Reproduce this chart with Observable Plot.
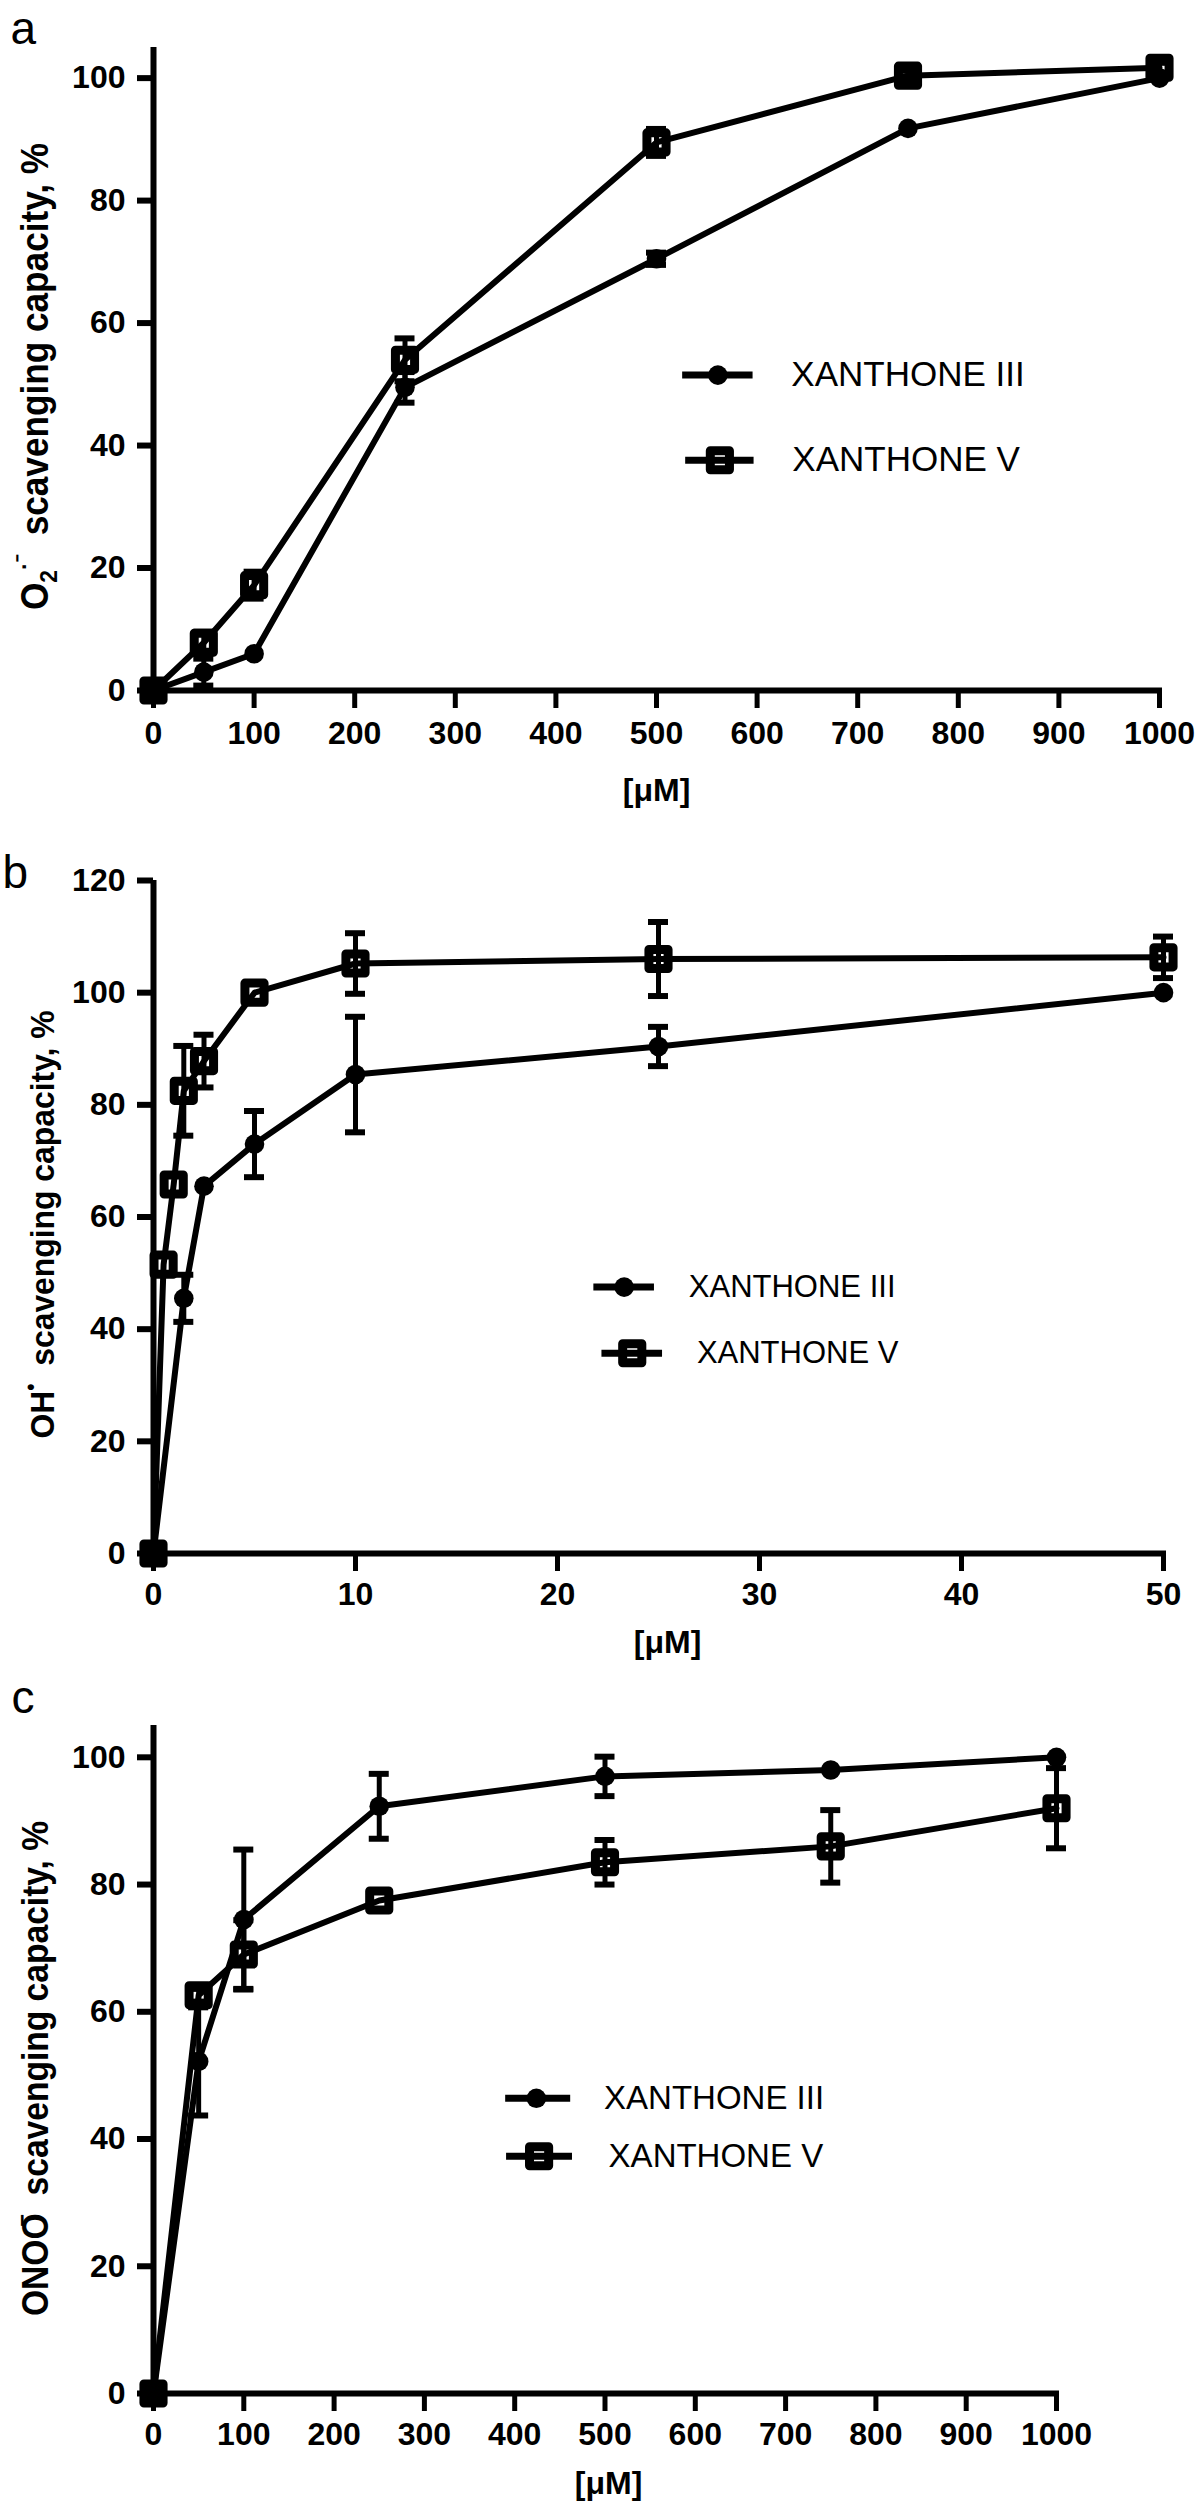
<!DOCTYPE html>
<html>
<head>
<meta charset="utf-8">
<script src="https://cdn.jsdelivr.net/npm/d3@7"></script>
<script src="https://cdn.jsdelivr.net/npm/@observablehq/plot@0.6"></script>
<style>
html, body { margin: 0; padding: 0; background: #fff; }
#chart svg { display: block; }
</style>
</head>
<body>
<div id="chart"></div>
<script>
// ---------- DATA ----------
const seriesNames = ["XANTHONE III", "XANTHONE V"];

// Panel a: O2·− scavenging
const concA = [0, 50, 100, 250, 500, 750, 1000];
const superoxideIII = [0, 3, 6, 49.5, 70.5, 91.8, 100];
const superoxideIIIErr = [0, 2.2, 0, 2.5, 1.0, 0, 0];
const superoxideV = [0, 7.8, 17.2, 54, 89.5, 100.4, 101.7];
const superoxideVErr = [0, 1.8, 2.2, 3.5, 2.2, 0.8, 0.8];

// Panel b: OH• scavenging
const concB_III = [0, 1.5, 2.5, 5, 10, 25, 50];
const hydroxylIII = [0, 45.5, 65.5, 73, 85.4, 90.4, 100];
const hydroxylIIIErr = [0, 4.2, 0, 5.9, 10.3, 3.5, 0];
const concB_V = [0, 0.5, 1, 1.5, 2.5, 5, 10, 25, 50];
const hydroxylV = [0, 51.5, 65.8, 82.5, 87.8, 100, 105.2, 106, 106.3];
const hydroxylVErr = [0, 0, 0, 8, 4.7, 0, 5.4, 6.6, 3.7];

// Panel c: ONOO− scavenging
const concC = [0, 50, 100, 250, 500, 750, 1000];
const peroxyIII = [0, 52.2, 74.5, 92.3, 97, 98, 100];
const peroxyIIIErr = [0, 8.5, 11, 5.1, 3.1, 0, 0];
const peroxyV = [0, 62.6, 69, 77.5, 83.5, 86, 92];
const peroxyVErr = [0, 1, 5.4, 0, 3.5, 5.7, 6.3];

// Tick labels
const ticksX1000 = [0, 100, 200, 300, 400, 500, 600, 700, 800, 900, 1000];
const ticksX50 = [0, 10, 20, 30, 40, 50];
const ticksY100 = [0, 20, 40, 60, 80, 100];
const ticksY120 = [0, 20, 40, 60, 80, 100, 120];

const xTitle = "[μM]";
const titleA = [{t: "O"}, {t: "2", s: 0.24}, {t: "·⁻", s: -0.42}, {t: "  scavenging capacity, %"}];
const titleB = [{t: "OH"}, {t: "•", s: -0.45}, {t: "  scavenging capacity, %"}];
const titleC = [{t: "ONOO"}, {t: "−", s: -0.5, dx: -0.4}, {t: "  scavenging capacity, %"}];

// ---------- LAYOUT ----------
const FONT = "'Liberation Sans', Arial, Helvetica, sans-serif";
const panels = [
  {
    letter: "a", height: 820, marginTop: 47, marginBottom: 130, marginRight: 41,
    xDomain: [0, 1000], yDomain: [0, 105], xTicks: ticksX1000, yTicks: ticksY100,
    series: [
      {x: concA, y: superoxideIII, e: superoxideIIIErr},
      {x: concA, y: superoxideV, e: superoxideVErr}
    ],
    title: titleA, titleSize: 38, titleLength: 467, titleDx: -106, titleDy: 7.5,
    letterDx: -143, letterDy: -4, xPad: 13, xLabelDx: 0, xLabelDy: 100,
    legendSize: 35,
    legend: [{y: 51.5, x1: 526, x2: 596, xm: 561, xt: 634}, {y: 37.6, x1: 529, x2: 597, xm: 563, xt: 635}]
  },
  {
    letter: "b", height: 850, marginTop: 60, marginBottom: 117, marginRight: 37,
    xDomain: [0, 50], yDomain: [0, 120], xTicks: ticksX50, yTicks: ticksY120,
    series: [
      {x: concB_III, y: hydroxylIII, e: hydroxylIIIErr},
      {x: concB_V, y: hydroxylV, e: hydroxylVErr}
    ],
    title: titleB, titleSize: 34, titleLength: 428, titleDx: -100, titleDy: 7.5,
    letterDx: -151, letterDy: 7, xPad: 10.5, xLabelDx: 9, xLabelDy: 89,
    legendSize: 31,
    legend: [{y: 47.5, x1: 21.8, x2: 24.8, xm: 23.3, xt: 26.5}, {y: 35.7, x1: 22.2, x2: 25.2, xm: 23.7, xt: 26.9}]
  },
  {
    letter: "c", height: 831, marginTop: 55, marginBottom: 108, marginRight: 144,
    xDomain: [0, 1000], yDomain: [0, 105], xTicks: ticksX1000, yTicks: ticksY100,
    series: [
      {x: concC, y: peroxyIII, e: peroxyIIIErr},
      {x: concC, y: peroxyV, e: peroxyVErr}
    ],
    title: titleC, titleSize: 36, titleLength: 495, titleDx: -106, titleDy: 9,
    letterDx: -142, letterDy: -13, xPad: 10.5, xLabelDx: 3.5, xLabelDy: 90,
    legendSize: 33,
    legend: [{y: 46.4, x1: 390, x2: 462, xm: 424, xt: 499}, {y: 37.3, x1: 391, x2: 464, xm: 427, xt: 504}]
  }
];

const markerStyles = [
  {symbol: "circle", r: 9.8, fill: "black", stroke: "none", strokeWidth: 0},
  {symbol: "square", r: 10.8, fill: "none", stroke: "black", strokeWidth: 9}
];

function buildPanel(p) {
  const plain = p.title.map(d => d.t).join("");
  const marks = [];
  p.series.forEach((s, k) => {
    const rows = s.x.map((x, i) => ({x, y: s.y[i], e: s.e[i]}));
    const errRows = rows.filter(d => d.e > 0);
    const m = markerStyles[k];
    marks.push(Plot.line(rows, {x: "x", y: "y", stroke: "black", strokeWidth: 6, strokeLinejoin: "round"}));
    marks.push(Plot.ruleX(errRows, {x: "x", y1: d => d.y - d.e, y2: d => d.y + d.e, stroke: "black", strokeWidth: 5}));
    marks.push(Plot.ruleY(errRows, {x1: "x", x2: "x", y: d => d.y + d.e, insetLeft: -10, insetRight: -10, stroke: "black", strokeWidth: 6}));
    marks.push(Plot.ruleY(errRows, {x1: "x", x2: "x", y: d => d.y - d.e, insetLeft: -10, insetRight: -10, stroke: "black", strokeWidth: 6}));
    marks.push(Plot.dot(rows, {x: "x", y: "y", symbol: m.symbol, r: m.r, fill: m.fill, stroke: m.stroke, strokeWidth: m.strokeWidth, strokeLinejoin: "round"}));
    // legend entry
    const L = p.legend[k];
    const lrow = [{...L, name: seriesNames[k]}];
    marks.push(Plot.ruleY(lrow, {x1: "x1", x2: "x2", y: "y", stroke: "black", strokeWidth: 7}));
    marks.push(Plot.dot(lrow, {x: "xm", y: "y", symbol: m.symbol, r: m.r, fill: m.fill, stroke: m.stroke, strokeWidth: m.strokeWidth, strokeLinejoin: "round"}));
    marks.push(Plot.text(lrow, {x: "xt", y: "y", text: "name", textAnchor: "start", lineAnchor: "middle", fontSize: p.legendSize, fontFamily: FONT, fill: "black"}));
  });
  // axes
  marks.push(Plot.ruleX([p.xDomain[0]], {stroke: "black", strokeWidth: 6}));
  marks.push(Plot.ruleY([p.yDomain[0]], {stroke: "black", strokeWidth: 6, insetRight: -3}));
  marks.push(Plot.axisY({ticks: p.yTicks, tickFormat: d => String(d), tickSize: 16, tickPadding: 12, fontSize: 32, fontWeight: "bold", fontFamily: FONT, strokeWidth: 6, stroke: "black", fill: "black", label: null}));
  marks.push(Plot.axisX({ticks: p.xTicks, tickFormat: d => String(d), tickSize: 18, tickPadding: p.xPad, fontSize: 32, fontWeight: "bold", fontFamily: FONT, strokeWidth: 5, stroke: "black", fill: "black", label: null}));
  marks.push(Plot.text([xTitle], {frameAnchor: "bottom", dx: p.xLabelDx, dy: p.xLabelDy, lineAnchor: "middle", fontSize: 32, fontWeight: "bold", fontFamily: FONT, fill: "black"}));
  marks.push(Plot.text([plain], {frameAnchor: "left", rotate: -90, textAnchor: "middle", lineAnchor: "bottom", dx: p.titleDx, dy: p.titleDy, fontSize: p.titleSize, fontWeight: "bold", fontFamily: FONT, fill: "black"}));
  marks.push(Plot.text([p.letter], {frameAnchor: "top-left", dx: p.letterDx, dy: p.letterDy, textAnchor: "start", lineAnchor: "bottom", fontSize: 46, fontFamily: FONT, fill: "black"}));

  const svg = Plot.plot({
    width: 1200, height: p.height,
    marginLeft: 153, marginRight: p.marginRight, marginTop: p.marginTop, marginBottom: p.marginBottom,
    x: {domain: p.xDomain, nice: false},
    y: {domain: p.yDomain, nice: false},
    style: {background: "white", color: "black", fontFamily: FONT, overflow: "visible"},
    marks
  });

  // rich text for y title (sub/superscripts), stretched to the reference length
  d3.select(svg).selectAll("text").filter(function() { return this.textContent === plain; }).each(function() {
    const el = d3.select(this);
    el.text(null).attr("xml:space", "preserve").style("white-space", "pre");
    let prev = 0;
    const fs = p.titleSize;
    p.title.forEach(part => {
      const s = part.s || 0;
      const ts = el.append("tspan").text(part.t);
      if (s !== prev) ts.attr("dy", (s - prev) * fs);
      if (part.dx) ts.attr("dx", part.dx * fs);
      if (s !== 0) ts.attr("font-size", fs * 0.65);
      prev = s;
    });
    el.attr("textLength", p.titleLength).attr("lengthAdjust", "spacingAndGlyphs");
  });
  return svg;
}

const chart = document.getElementById("chart");
panels.forEach(p => chart.appendChild(buildPanel(p)));
</script>
</body>
</html>
